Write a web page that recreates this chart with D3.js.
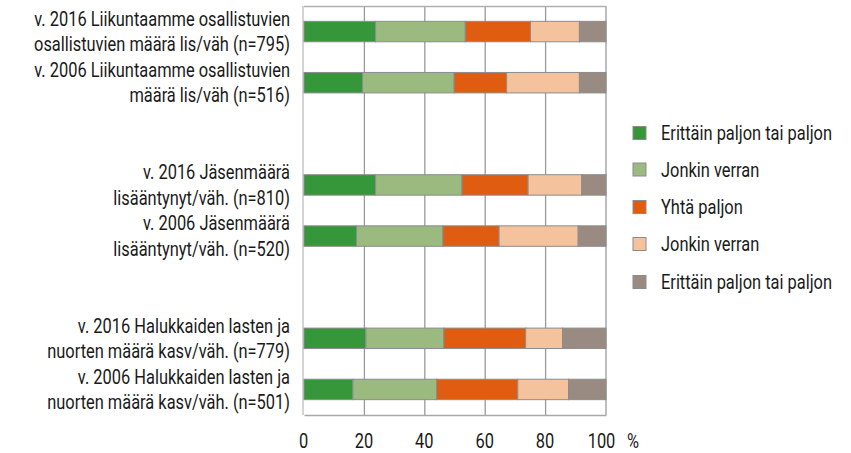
<!DOCTYPE html>
<html>
<head>
<meta charset="utf-8">
<script src="https://cdn.jsdelivr.net/npm/d3@7"></script>
<style>
  body { margin: 0; background: #fff; }
  text { font-family: Roboto, "Liberation Sans", sans-serif; fill: #1a1a1a; }
</style>
</head>
<body>
<div id="chart"></div>
<script>
// rivit ylhäältä alas, tyhjät rivit ryhmien välissä
var categories = [
    "v. 2016 Liikuntaamme osallistuvien|osallistuvien määrä lis/väh (n=795)",
    "v. 2006 Liikuntaamme osallistuvien|määrä lis/väh (n=516)",
    "",
    "v. 2016 Jäsenmäärä|lisääntynyt/väh. (n=810)",
    "v. 2006 Jäsenmäärä|lisääntynyt/väh. (n=520)",
    " ",
    "v. 2016 Halukkaiden lasten ja|nuorten määrä kasv/väh. (n=779)",
    "v. 2006 Halukkaiden lasten ja|nuorten määrä kasv/väh. (n=501)"
];
var seriesNames = ["Erittäin paljon tai paljon", "Jonkin verran", "Yhtä paljon", "Jonkin verran", "Erittäin paljon tai paljon"];
var colors = ["#36963a", "#9aba80", "#e05c10", "#f5c29e", "#9a8b82"];

var s1 = [23.7, 19.4, null, 23.7, 17.4, null, 20.5, 16.2];
var s2 = [29.7, 30.3, null, 28.6, 28.6, null, 25.8, 27.7];
var s3 = [21.6, 17.4, null, 21.9, 18.6, null, 27.1, 26.9];
var s4 = [16.2, 24.1, null, 17.8, 26.2, null, 12.2, 16.8];
var s5 = [8.8, 8.8, null, 8.0, 9.2, null, 14.4, 12.4];
var ticks = [0, 20, 40, 60, 80, 100];

var width = 851,
    height = 453;
var margin = { top: 6, left: 304, right: 245, bottom: 38 };
var fontSize = 20;

var svg = d3.select("#chart").append("svg")
    .attr("width", width)
    .attr("height", height);

// kapea fontti puuttuu, joten teksti puristetaan vaakasuunnassa
var probe = svg.append("text").attr("font-size", fontSize).text("v. 2016 Liikuntaamme osallistuvien");
var sx = 256 / probe.node().getComputedTextLength();
probe.remove();

function label(parent, tx, ty, str, anchor) {
    var g = parent.append("g").attr("transform", "translate(" + tx + "," + ty + ") scale(" + sx + ",1)");
    return g.append("text")
        .attr("text-anchor", anchor || "start")
        .attr("font-size", fontSize)
        .text(str);
}

var x = d3.scaleLinear().domain([0, 100]).range([margin.left, width - margin.right]);
var y = d3.scaleBand().domain(categories).range([margin.top, height - margin.bottom]).paddingInner(0.6).paddingOuter(0.3);

// pinotut arvot
var series = [s1, s2, s3, s4, s5];
var rows = categories.map(function (c, i) {
    var r = { cat: c };
    series.forEach(function (s, k) { r["k" + k] = s[i] || 0; });
    return r;
});
var stack = d3.stack().keys(series.map(function (s, k) { return "k" + k; }))(rows);

// ruudukko
svg.append("g")
    .selectAll("line").data(ticks.slice(1)).enter().append("line")
    .attr("x1", function (d) { return x(d); })
    .attr("x2", function (d) { return x(d); })
    .attr("y1", margin.top)
    .attr("y2", height - margin.bottom)
    .attr("stroke", "#9a9a9a")
    .attr("stroke-width", 1.3);
svg.append("line")
    .attr("x1", x(0)).attr("x2", x(100))
    .attr("y1", margin.top + 0.5).attr("y2", margin.top + 0.5)
    .attr("stroke", "#b0b0b0").attr("stroke-width", 1.3);
svg.append("line")
    .attr("x1", x(0) - 1).attr("x2", x(0) - 1)
    .attr("y1", margin.top).attr("y2", height - margin.bottom)
    .attr("stroke", "#d4d4d4").attr("stroke-width", 2);

// palkit
svg.append("g").selectAll("g").data(stack).enter().append("g")
    .attr("fill", function (d, i) { return colors[i]; })
    .selectAll("rect").data(function (d) { return d.filter(function (p) { return p.data.cat.trim() !== ""; }); })
    .enter().append("rect")
    .attr("x", function (d) { return x(d[0]); })
    .attr("width", function (d) { return x(d[1]) - x(d[0]); })
    .attr("y", function (d) { return y(d.data.cat); })
    .attr("height", y.bandwidth())
    .attr("stroke", "#8c8c8c")
    .attr("stroke-width", 1);

// x-akseli
var xAxis = svg.append("g")
    .attr("transform", "translate(0," + (height - margin.bottom) + ")")
    .call(d3.axisBottom(x).tickValues(ticks).tickSize(0).tickFormat(""));
xAxis.select(".domain").attr("stroke", "#a8a8a8").attr("stroke-width", 1.3);
xAxis.selectAll(".tick").each(function (d) {
    label(d3.select(this), d === 100 ? -5 : -1, 33, d, "middle");
});
label(svg, 627, 448, "%");

// luokkien nimet
categories.forEach(function (c) {
    if (c.trim() === "") return;
    var lines = c.split("|");
    var cy = y(c) + y.bandwidth() / 2;
    lines.forEach(function (l, i) {
        label(svg, 290, cy + (i - 0.5) * 25.5 + 7, l, "end");
    });
});

// selite
var legendY = [133, 169.5, 207, 244, 282];
var legend = svg.append("g").selectAll("g").data(seriesNames).enter().append("g")
    .attr("transform", function (d, i) { return "translate(633," + legendY[i] + ")"; });
legend.append("rect")
    .attr("x", 0).attr("y", -6.5)
    .attr("width", 13).attr("height", 13)
    .attr("fill", function (d, i) { return colors[i]; })
    .attr("stroke", "#8c8c8c");
legend.each(function (d) {
    label(d3.select(this), 28, 7, d);
});
</script>
</body>
</html>
